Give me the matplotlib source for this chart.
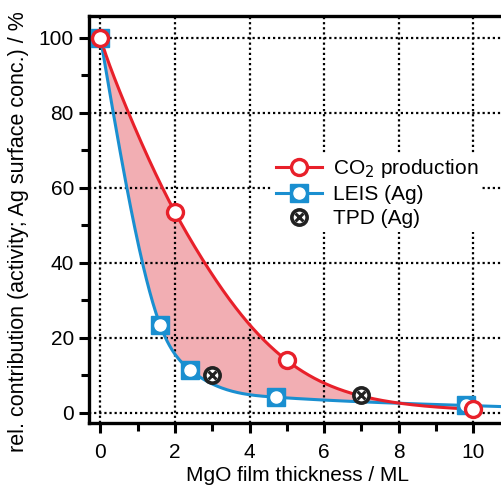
import numpy as np
import matplotlib
matplotlib.use("Agg")
import matplotlib.pyplot as plt
from matplotlib.lines import Line2D

plt.rcParams['font.family'] = ['Liberation Sans', 'DejaVu Sans']

# data
co2_x = [0, 2, 5, 10]
co2_y = [100, 53.5, 14, 1]
leis_x = [0, 1.6, 2.4, 4.7, 9.8]
leis_y = [100, 23.5, 11.5, 4.2, 2.0]
tpd_x = [3, 7]
tpd_y = [10, 4.8]
xticks = [0, 2, 4, 6, 8, 10]
yticks = [0, 20, 40, 60, 80, 100]

RED = '#e8202a'
BLUE = '#1a8fd0'
FILL = '#f2aeb3'
FS = 15


def natural_spline(x, y, xs):
    x = np.asarray(x, float); y = np.asarray(y, float)
    n = len(x)
    h = np.diff(x)
    A = np.zeros((n, n)); b = np.zeros(n)
    A[0, 0] = 1; A[-1, -1] = 1
    for i in range(1, n - 1):
        A[i, i - 1] = h[i - 1]
        A[i, i] = 2 * (h[i - 1] + h[i])
        A[i, i + 1] = h[i]
        b[i] = 3 * ((y[i + 1] - y[i]) / h[i] - (y[i] - y[i - 1]) / h[i - 1])
    c = np.linalg.solve(A, b)
    out = np.empty_like(xs)
    for k, xv in enumerate(xs):
        i = np.clip(np.searchsorted(x, xv) - 1, 0, n - 2)
        bi = (y[i + 1] - y[i]) / h[i] - h[i] * (2 * c[i] + c[i + 1]) / 3
        di = (c[i + 1] - c[i]) / (3 * h[i])
        dx = xv - x[i]
        out[k] = y[i] + bi * dx + c[i] * dx ** 2 + di * dx ** 3
    return out


fig = plt.figure(figsize=(5.01, 4.88), dpi=100)
ax = fig.add_axes([0.178, 0.133, 0.83, 0.834])

xs = np.linspace(0, 10, 400)
red_c = np.exp(natural_spline(np.log1p(co2_x), np.log(co2_y), np.log1p(xs)))
xb = np.linspace(0, 11.2, 400)
blue_c = natural_spline(leis_x, leis_y, xb)
blue_on = natural_spline(leis_x, leis_y, xs)

ax.fill_between(xs, blue_on, red_c, where=red_c >= blue_on, color=FILL, lw=0, zorder=1)
ax.grid(True, which='major', color='black', linestyle=(0, (1, 1.3)), linewidth=1.6, zorder=2)
ax.set_axisbelow(False)
ax.plot(xb, blue_c, color=BLUE, lw=2.2, zorder=3)
ax.plot(xs, red_c, color=RED, lw=2.2, zorder=4)

ax.plot(leis_x, leis_y, 's', ms=13, mfc=BLUE, mec=BLUE, zorder=5)
ax.plot(leis_x, leis_y, 'o', ms=8, mfc='white', mec='white', zorder=6)
ax.plot(tpd_x, tpd_y, 'o', ms=11, mfc='white', mec='#222222', mew=2.6, zorder=5)
ax.plot(tpd_x, tpd_y, 'x', ms=6, mec='#222222', mew=2.2, zorder=6)
ax.plot(co2_x, co2_y, 'o', ms=11.5, mfc='white', mec=RED, mew=2.4, zorder=7)

ax.set_xlim(-0.3, 10.85)
ax.set_ylim(-2.7, 105.7)
ax.set_xticks(xticks)
ax.set_yticks(yticks)
ax.set_xticks([1, 3, 5, 7, 9], minor=True)
ax.set_yticks([10, 30, 50, 70, 90], minor=True)
ax.tick_params(which='major', direction='out', length=7, width=2.2, labelsize=FS, pad=4)
ax.tick_params(axis='x', which='major', pad=7.5)
ax.tick_params(which='minor', direction='out', length=5.5, width=2.2)
ax.spines['right'].set_visible(False)
for s in ['left', 'bottom', 'top']:
    ax.spines[s].set_linewidth(2.4)

ax.set_xlabel('MgO film thickness / ML', fontsize=FS, labelpad=3)
ax.set_ylabel('rel. contribution (activity; Ag surface conc.) / %', fontsize=15.5)
ax.yaxis.set_label_coords(-0.145, 0.47)

h1 = Line2D([], [], color=RED, lw=2.2, marker='o', ms=11.5, mfc='white', mec=RED, mew=2.4)
h2 = (Line2D([], [], color=BLUE, lw=2.2, marker='s', ms=13, mfc=BLUE, mec=BLUE),
      Line2D([], [], ls='none', marker='o', ms=8, mfc='white', mec='white'))
h3 = (Line2D([], [], ls='none', marker='o', ms=11, mfc='white', mec='#222222', mew=2.6),
      Line2D([], [], ls='none', marker='x', ms=6, mec='#222222', mew=2.2))
leg = ax.legend([h1, h2, h3], ['CO$_2$ production', 'LEIS (Ag)', 'TPD (Ag)'],
                loc='upper left', bbox_to_anchor=(0.415, 0.69), frameon=True,
                fontsize=FS, handlelength=2.2, labelspacing=0.25, borderpad=0.2,
                handletextpad=0.5, framealpha=1, edgecolor='none')
leg.set_zorder(10)

fig.savefig('out.png', dpi=100)
